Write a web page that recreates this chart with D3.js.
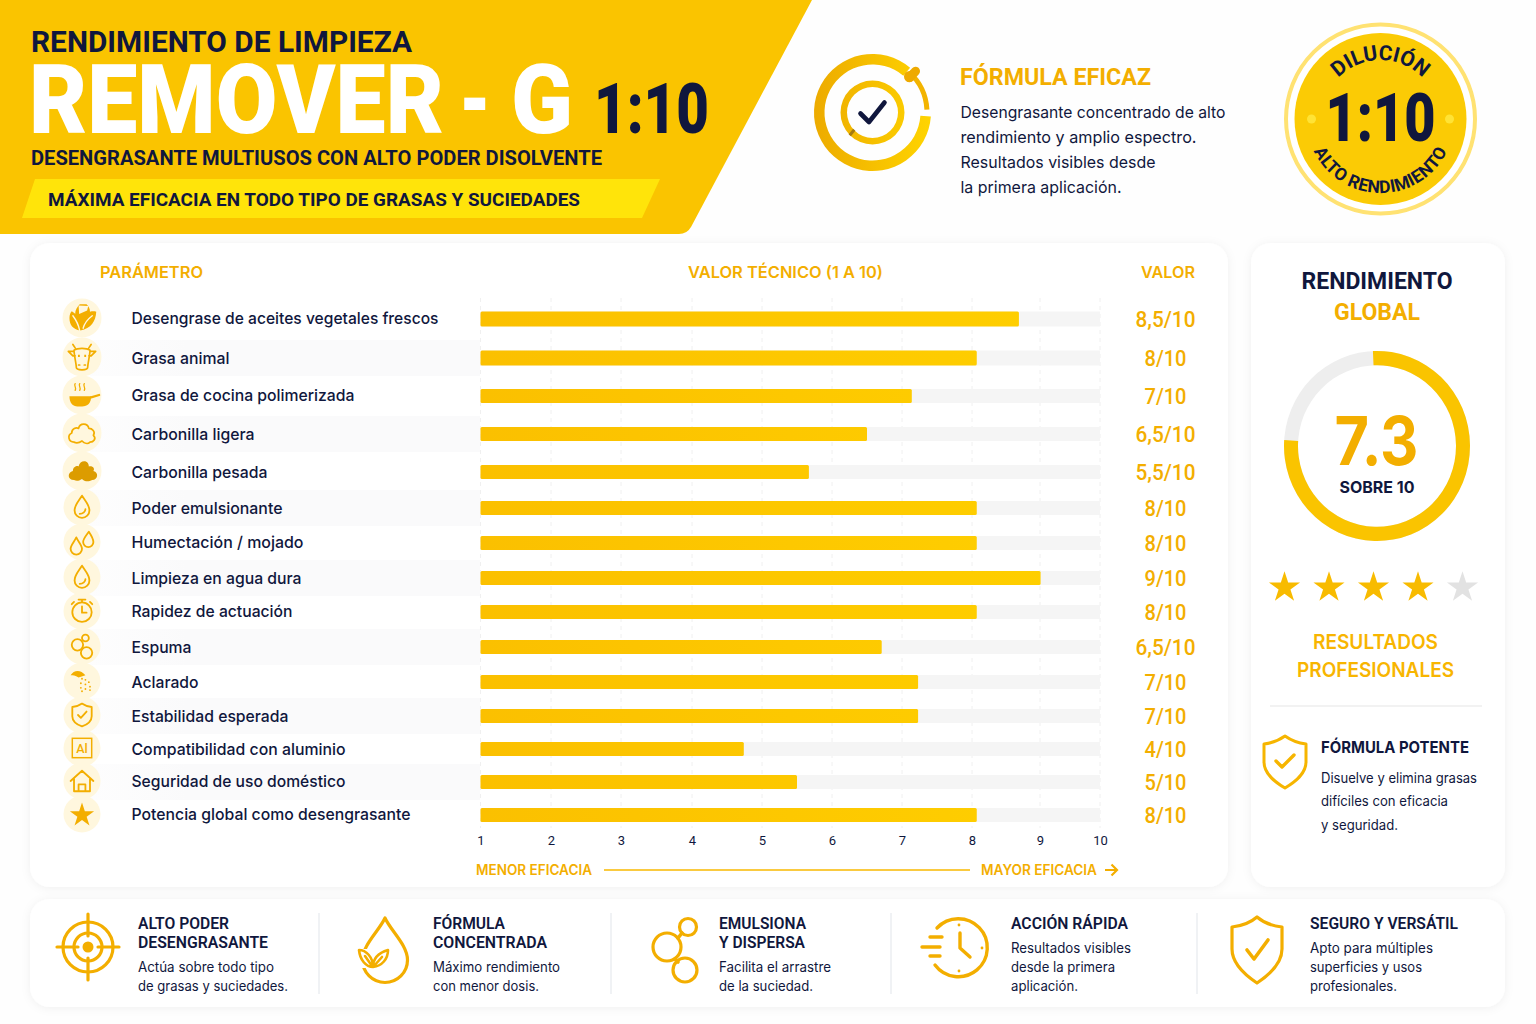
<!DOCTYPE html>
<html lang="es"><head><meta charset="utf-8">
<style>html,body{margin:0;padding:0;background:#fefefe}svg{display:block}</style>
<script src="https://cdnjs.cloudflare.com/ajax/libs/d3/7.8.5/d3.min.js"></script></head>
<body><svg id="c" width="1536" height="1024" viewBox="0 0 1536 1024"></svg>
<script>
// ---------- data ----------
const categories = ["Desengrase de aceites vegetales frescos","Grasa animal","Grasa de cocina polimerizada","Carbonilla ligera","Carbonilla pesada","Poder emulsionante","Humectación / mojado","Limpieza en agua dura","Rapidez de actuación","Espuma","Aclarado","Estabilidad esperada","Compatibilidad con aluminio","Seguridad de uso doméstico","Potencia global como desengrasante"];
const valueLabels = ["8,5/10","8/10","7/10","6,5/10","5,5/10","8/10","8/10","9/10","8/10","6,5/10","7/10","7/10","4/10","5/10","8/10"];
// bar ends as they read against the printed axis
const barValues = [8.69,8.07,7.14,6.5,5.67,8.07,8.07,9.01,8.07,6.71,7.23,7.23,4.74,5.5,8.07];
const iconKeys = ["leaf","cow","pan","cloud","cloudFill","drop","drops","drop","watch","bubbles","shower","shield","al","house","star"];
const tickValues = [1,2,3,4,5,6,7,8,9,10];
const tickPixels = [480.5,551,621,692,762,832,902,972,1040,1100];
const rowPixels = [319,358,396,434,472,508,543,578,612,647,682,716,749,782,815];
const rowHeights = [15,15,14,14,14,14,14,14,14,14,14,14,14,14,14];
const labelWidths = [307,98,223,123,136,151,172,170,161,60,67,157,214,214,279];
const labelOffsets = [5,6,5,6,6,6,5,6,5,6,6,6,6,5,5];
const globalScore = "7.3", gaugeReading = 7.6, starsOn = 4, starsAll = 5;
const ticksFont = "Roboto";

const INK="#10173d", AMB="#f3ae00", YEL="#fac400";
const svg=d3.select("#c"), defs=svg.append("defs");
const sans="Inter, Roboto, sans-serif", din="Roboto, Inter, sans-serif";

function T(p,x,y,s,o={}){const t=p.append("text").attr("x",x).attr("y",y).text(s)
  .attr("font-family",o.f||sans).attr("font-size",o.s||16).attr("font-weight",o.w||500)
  .attr("fill",o.c||INK).attr("text-anchor",o.a||"start");
  if(o.len)t.attr("textLength",o.len).attr("lengthAdjust","spacingAndGlyphs");
  return t;}
const lg=(id,a,b,x1,x2)=>{const g=defs.append("linearGradient").attr("id",id).attr("gradientUnits","userSpaceOnUse")
  .attr("x1",x1).attr("x2",x2).attr("y1",0).attr("y2",0);
  g.append("stop").attr("offset",0).attr("stop-color",a);g.append("stop").attr("offset",1).attr("stop-color",b);};
lg("barG","#fbc000","#ffd000",481,1100);
const sh=defs.append("filter").attr("id","sh").attr("x","-5%").attr("y","-10%").attr("width","110%").attr("height","120%");
sh.append("feDropShadow").attr("dx",0).attr("dy",1).attr("stdDeviation",5).attr("flood-color","#000").attr("flood-opacity",0.06);

// ---------- header ----------
const line=d3.line();
svg.append("path").attr("d","M0,0H812L691,227Q687,234 679,234H0Z").attr("fill",YEL);
svg.append("path").attr("d",line([[35,179],[660,179],[642,218],[22,218]])+"Z").attr("fill","#ffe40a");
T(svg,31,52,"RENDIMIENTO DE LIMPIEZA",{f:din,s:30,w:700,len:381});
T(svg,29,133,"REMOVER",{f:din,s:97,w:900,c:"#fff",len:415});
T(svg,459,133,"-",{f:din,s:97,w:900,c:"#fff",len:32});
T(svg,511,133,"G",{f:din,s:97,w:900,c:"#fff",len:62});
T(svg,594,133,"1:10",{f:din,s:70,w:900,len:115});
T(svg,31,165,"DESENGRASANTE MULTIUSOS CON ALTO PODER DISOLVENTE",{f:din,s:21,w:700,len:571});
T(svg,48,206,"MÁXIMA EFICACIA EN TODO TIPO DE GRASAS Y SUCIEDADES",{f:din,s:19,w:700,len:532});

// target icon
const arc=d3.arc(), rad=d=>d*Math.PI/180;
const tg=svg.append("g").attr("transform","translate(872.5,112.5)");
const ring=(a,b,r0,r1,fill)=>tg.append("path").attr("d",arc({innerRadius:r0,outerRadius:r1,startAngle:rad(a),endAngle:rad(b),cornerRadius:2})).attr("fill",fill);
const ringFill="url(#ringT)";
const rg=defs.append("linearGradient").attr("id","ringT").attr("gradientUnits","userSpaceOnUse").attr("x1",-58).attr("x2",58).attr("y1",0).attr("y2",0);
rg.append("stop").attr("offset",0).attr("stop-color","#edab00");rg.append("stop").attr("offset",1).attr("stop-color","#ffd400");
ring(94,400,48,58.5,ringFill);ring(42,87,52,57,"#f3b400");
ring(0,360,25.5,32,ringFill);
tg.append("rect").attr("x",-4.5).attr("y",-9).attr("width",9).attr("height",18).attr("rx",4.5).attr("fill","#eeaa00").attr("transform","translate(40,-38) rotate(42)");
tg.append("circle").attr("cx",37).attr("cy",-36).attr("r",5.5).attr("fill","#eeaa00");
tg.append("rect").attr("x",-1.5).attr("y",-3.5).attr("width",3).attr("height",7).attr("fill","#a47a10").attr("transform","translate(-20.5,20) rotate(40)");
tg.append("path").attr("d","M-12,1L-3.5,9.5L12,-10").attr("fill","none").attr("stroke",INK).attr("stroke-width",4.6).attr("stroke-linecap","round").attr("stroke-linejoin","round");

T(svg,960,85,"FÓRMULA EFICAZ",{f:din,s:24,w:700,c:AMB,len:191});
[["Desengrasante concentrado de alto",118,265],["rendimiento y amplio espectro.",143,236],["Resultados visibles desde",168,195],["la primera aplicación.",193,161]]
  .forEach(d=>T(svg,960.5,d[1],d[0],{s:16.5,w:400,len:d[2]}));

// dilution badge
const bd=svg.append("g").attr("transform","translate(1380.5,119)");
bd.append("circle").attr("r",94.5).attr("fill","#fff").attr("stroke","#ffe272").attr("stroke-width",4);
bd.append("circle").attr("r",86).attr("fill","#fbcb05");
[-69,69].forEach(x=>bd.append("circle").attr("cx",x).attr("cy",0).attr("r",4.5).attr("fill","#ffe335"));
T(bd,0,22,"1:10",{f:din,s:66,w:900,a:"middle",len:110});
defs.append("path").attr("id","topArc").attr("d","M-59,0A59,59 0 0 1 59,0");
defs.append("path").attr("id","botArc").attr("d","M-74,0A74,74 0 0 0 74,0");
bd.append("text").attr("font-family",din).attr("font-size",21).attr("font-weight",700).attr("fill",INK)
 .append("textPath").attr("href","#topArc").attr("startOffset","50%").attr("text-anchor","middle").text("DILUCIÓN");
bd.append("text").attr("font-family",din).attr("font-size",17.5).attr("font-weight",700).attr("fill",INK).attr("letter-spacing",0.3)
 .append("textPath").attr("href","#botArc").attr("startOffset","50%").attr("text-anchor","middle").text("ALTO RENDIMIENTO");

// ---------- cards ----------
[[30,243,1198,644],[1251,243,254,644],[30,899,1475,108]].forEach(d=>svg.append("rect").attr("x",d[0]).attr("y",d[1]).attr("width",d[2]).attr("height",d[3]).attr("rx",20).attr("fill","#fff").attr("filter","url(#sh)"));

// ---------- chart ----------
T(svg,100,278,"PARÁMETRO",{s:16,w:600,c:AMB,len:103});
T(svg,688,278,"VALOR TÉCNICO (1 A 10)",{s:16,w:600,c:AMB,len:195});
T(svg,1141,278,"VALOR",{s:16,w:600,c:AMB,len:54});

const x=d3.scaleLinear().domain(tickValues).range(tickPixels);
const y=d3.scaleOrdinal().domain(categories).range(rowPixels);
const h=d3.scaleOrdinal().domain(categories).range(rowHeights);
const zero=tickPixels[0], end=tickPixels[tickPixels.length-1];
const chart=svg.append("g");

// stripes on even rows, fading towards the left
const sg=defs.append("linearGradient").attr("id","stripeG");
sg.append("stop").attr("offset",0).attr("stop-color","#fbfbfc").attr("stop-opacity",0.5);
sg.append("stop").attr("offset",0.25).attr("stop-color","#fafafb");
sg.append("stop").attr("offset",1).attr("stop-color","#fafafb");
chart.selectAll(".st").data(categories.filter((d,i)=>i%2==1)).join("rect")
  .attr("x",90).attr("width",390).attr("y",d=>y(d)-18).attr("height",36).attr("fill","url(#stripeG)");
// grid
chart.selectAll(".gr").data(tickValues).join("line")
  .attr("x1",d=>x(d)).attr("x2",d=>x(d)).attr("y1",298).attr("y2",828)
  .attr("stroke","#f0f0f0").attr("stroke-dasharray","4 4");
// tracks + bars
chart.selectAll(".tr").data(categories).join("rect")
  .attr("x",zero).attr("width",end-zero).attr("y",d=>y(d)-h(d)/2).attr("height",h).attr("fill","#f5f5f5");
chart.selectAll(".bar").data(categories).join("rect")
  .attr("x",zero).attr("width",(d,i)=>x(barValues[i])-zero).attr("y",d=>y(d)-h(d)/2).attr("height",h).attr("rx",1.5).attr("fill","url(#barG)");
// labels
categories.forEach((c,i)=>{
  T(chart,131.5,y(c)+labelOffsets[i],c,{s:16.3,w:500,len:labelWidths[i]});
  const vw=valueLabels[i].length==6?60:42;
  T(chart,1165.5,y(c)+8,valueLabels[i],{f:din,s:22.5,w:500,c:AMB,a:"middle",len:vw});
});
// axis
const ax=svg.append("g").attr("transform","translate(0,840)")
  .call(d3.axisBottom(x).tickValues(tickValues).tickSize(0).tickPadding(0).tickFormat(d3.format("d")));
ax.select(".domain").remove();
ax.selectAll("text").attr("font-family",ticksFont).attr("font-size",13).attr("fill",INK).attr("dy","0.36em").attr("y",0);

T(svg,476,875,"MENOR EFICACIA",{s:14,w:600,c:AMB,len:116});
svg.append("line").attr("x1",604).attr("x2",970).attr("y1",870).attr("y2",870).attr("stroke","#f8b900").attr("stroke-width",1.3);
T(svg,981,875,"MAYOR EFICACIA",{s:14,w:600,c:AMB,len:116});
svg.append("path").attr("d","M1105,870H1117M1111.5,864.5L1117,870L1111.5,875.5").attr("fill","none").attr("stroke",AMB).attr("stroke-width",2.2);

// row icons
const S=(g,d,w=1.6)=>g.append("path").attr("d",d).attr("fill","none").attr("stroke",AMB).attr("stroke-width",w).attr("stroke-linecap","round").attr("stroke-linejoin","round");
const F=(g,d,c=AMB)=>g.append("path").attr("d",d).attr("fill",c);
const C=(g,cx,cy,r,w=1.6)=>g.append("circle").attr("cx",cx).attr("cy",cy).attr("r",r).attr("fill","none").attr("stroke",AMB).attr("stroke-width",w);
const drop="M0,-10C3,-5 6.5,-2 6.5,3A6.5,6.5 0 0 1 -6.5,3C-6.5,-2 -3,-5 0,-10Z";
const icons={
 leaf:g=>{F(g,"M-1.5,11C-8,10 -11,6 -11,0C-11,-3 -10,-5 -9,-6C-7.5,-5 -6.5,-4.5 -6,-3.5C-6,-7 -4,-10 -2,-12L4,-12C6,-10 7,-8 7,-5.5C9,-6 11,-6 12.5,-5.5C12,3 8,9 -1.5,11Z");
   g.append("path").attr("d","M-3,-11L-2.5,-3.5L4.5,-6.5L5.5,-10.5Z").attr("fill","#fff7de");
   S(g,"M-8,-2C-5,2 -3,6 -2,11M1,9C2,5 5,1 9,-2",1.2).attr("stroke","#fff7de");},
 cow:g=>{S(g,"M-7,-6C-7,-2 -5,6 -5,9C-5,12 5,12 5,9C5,6 7,-2 7,-6C4,-8 -4,-8 -7,-6ZM-7,-5H-12L-8,-1H-6M7,-5H12L8,-1H6M-6,-8L-8,-11M6,-8L8,-11M-3,7H-2M2,7H3",1.5);
   F(g,"M-3.5,-2h1.6v2h-1.6zM2,-2h1.6v2h-1.6z");},
 pan:g=>{F(g,"M-11,1H8C8,7 5,10 0,10H-4C-8,10 -11,7 -11,1Z");S(g,"M8,2L15,0",2);
   S(g,"M-6,-10c-1.5,2 1.5,3 0,6M-2,-10c-1.5,2 1.5,3 0,6M2,-10c-1.5,2 1.5,3 0,6",1.1);},
 cloud:g=>S(g,"M-7,8C-12,8 -13,2 -9,0C-9,-4 -5,-5 -3,-4C-2,-9 5,-9 6,-4C9,-4 12,-1 10,2C13,5 10,8 7,8C5,10 2,9 0,7C-3,9 -5,9 -7,8Z",1.5),
 cloudFill:g=>F(g,"M-7,8C-13,8 -13,1 -8,0C-8,-4 -4,-5 -3,-4C-2,-10 6,-10 6,-4C8,-5 12,-3 10,0C15,1 14,8 9,8C5,10 2,9 0,7C-3,9 -5,9 -7,8Z","#dc9c00"),
 drop:g=>{S(g,drop);S(g,"M-2,6C1,6 3,4 3,2",1.6);},
 drops:g=>{S(g,"M-5,-4C-3,0 0,3 0,6A5,5 0 0 1 -10,6C-10,3 -7,0 -5,-4Z");S(g,"M6,-9C8,-6 10,-3 10,0A4.5,4.5 0 0 1 1,0C1,-3 4,-6 6,-9Z");},
 watch:g=>{C(g,0,1,8.5);S(g,"M0,-4V1.5H4M-3,-10H3M0,-10V-8M-9,-6L-7,-8M9,-6L7,-8");},
 bubbles:g=>{C(g,-4,-1,5);C(g,4,6,5);C(g,3,-7,3);},
 shower:g=>{F(g,"M-10,-5C-7,-10 -1,-10 3,-5L-3,-3C-6,-5 -8,-5 -10,-5Z");
   g.selectAll(".p").data([[0,-2],[3,-1],[6,1],[-1,2],[3,3],[7,5],[-1,6],[3,7],[7,8],[0,9]]).join("circle").attr("cx",d=>d[0]).attr("cy",d=>d[1]).attr("r",0.8).attr("fill",AMB);},
 shield:g=>{S(g,"M0,-10C3,-8 6,-7 8.5,-7V1C8.5,6 4,8.5 0,10C-4,8.5 -8.5,6 -8.5,1V-7C-6,-7 -3,-8 0,-10Z");S(g,"M-3.5,0L-1,2.5L4,-3");},
 al:g=>{g.append("rect").attr("x",-8.5).attr("y",-8.5).attr("width",17).attr("height",17).attr("fill","none").attr("stroke",AMB).attr("stroke-width",1.3);
   T(g,0,4,"Al",{f:din,s:11,w:500,c:AMB,a:"middle"});},
 house:g=>{S(g,"M-10,0L0,-9L10,0M-7,-2V9H7V-2M-3,9V3H3V9");},
 star:g=>g.append("path").attr("d",d3.symbol(d3.symbolStar,140)()).attr("fill",AMB).attr("transform","translate(0,1)")
};
categories.forEach((c,i)=>{
  const g=chart.append("g").attr("transform",`translate(82,${y(c)-1})`);
  g.append("circle").attr("r",i<5?19.5:18.5).attr("fill","#fff7de");
  icons[iconKeys[i]](g.append("g").attr("transform","scale(1.14)"));
});

// ---------- global panel ----------
T(svg,1377,289,"RENDIMIENTO",{f:din,s:24,w:700,a:"middle",len:151});
T(svg,1377,320,"GLOBAL",{f:din,s:24,w:700,c:AMB,a:"middle",len:86});
const gauge=svg.append("g").attr("transform","translate(1377,446) scale(1,1.022)");
const ga=d3.scaleLinear().domain([0,10]).range([0,2*Math.PI]);
gauge.append("path").attr("d",arc({innerRadius:79,outerRadius:93,startAngle:0,endAngle:2*Math.PI})).attr("fill","#eeeeee");
gauge.append("path").attr("d",arc({innerRadius:79,outerRadius:93,startAngle:ga(-0.07),endAngle:ga(gaugeReading),cornerRadius:7})).attr("fill",YEL);
T(svg,1376.5,465,globalScore,{s:67,w:700,c:AMB,a:"middle",len:84});
T(svg,1377,493,"SOBRE 10",{s:16,w:700,a:"middle",len:75});
const sx=d3.scalePoint().domain(d3.range(starsAll)).range([1284.5,1462.5]);
svg.selectAll(".star").data(d3.range(starsAll)).join("path")
  .attr("d",d3.symbol(d3.symbolStar,300)()).attr("transform",d=>`translate(${sx(d)},587.5)`)
  .attr("fill",d=>d<starsOn?"#f8bb00":"#e2e2e2");
T(svg,1375.5,649,"RESULTADOS",{s:20,w:600,c:"#f8b500",a:"middle",len:125});
T(svg,1375.5,677,"PROFESIONALES",{s:20,w:600,c:"#f8b500",a:"middle",len:157});
svg.append("line").attr("x1",1270).attr("x2",1482).attr("y1",706).attr("y2",706).attr("stroke","#eeeeee").attr("stroke-width",1.5);
const shieldBig="M0,-26C7,-21 13,-19 21,-18V0C21,12 10,20 0,26C-10,20 -21,12 -21,0V-18C-13,-19 -7,-21 0,-26Z";
const si=svg.append("g").attr("transform","translate(1285,762)");
S(si,shieldBig,3).attr("stroke","#f6b500");S(si,"M-9,-1L-3,5L9,-7",3.4).attr("stroke","#f6b500");
T(svg,1321,753,"FÓRMULA POTENTE",{s:16,w:700,len:148});
[["Disuelve y elimina grasas",783,156],["difíciles con eficacia",806,127],["y seguridad.",830,77]].forEach(d=>T(svg,1321,d[1],d[0],{s:14,w:400,len:d[2]}));

// ---------- bottom strip ----------
[319,611,891,1197].forEach(v=>svg.append("line").attr("x1",v).attr("x2",v).attr("y1",913).attr("y2",994).attr("stroke","#e1e5ea"));
const foot=[
 {x:138,h:["ALTO PODER","DESENGRASANTE"],hw:[91,130],b:["Actúa sobre todo tipo","de grasas y suciedades."],bw:[136,150]},
 {x:433,h:["FÓRMULA","CONCENTRADA"],hw:[72,114],b:["Máximo rendimiento","con menor dosis."],bw:[127,106]},
 {x:719,h:["EMULSIONA","Y DISPERSA"],hw:[87,86],b:["Facilita el arrastre","de la suciedad."],bw:[112,94]},
 {x:1011,h:["ACCIÓN RÁPIDA"],hw:[117],b:["Resultados visibles","desde la primera","aplicación."],bw:[120,104,67]},
 {x:1310,h:["SEGURO Y VERSÁTIL"],hw:[148],b:["Apto para múltiples","superficies y usos","profesionales."],bw:[123,112,87]}];
foot.forEach(d=>{let yy=929;
  d.h.forEach((t,i)=>{T(svg,d.x,yy,t,{f:din,s:16,w:600,len:d.hw[i]});yy+=18.5;});
  let by=d.h.length==2?972:953;
  d.b.forEach((t,i)=>{T(svg,d.x,by,t,{s:14,w:400,len:d.bw[i]});by+=19.2;});
});
const I=(px,py)=>svg.append("g").attr("transform",`translate(${px},${py})`);
const c1=I(88,947);
C(c1,0,0,25,3.2);C(c1,0,0,14,3.2);c1.append("circle").attr("r",5.5).attr("fill",AMB);
S(c1,"M0,-33V-11M0,11V33M-31,0H-10M10,0H31",3.2);
const c2=I(385,951);
S(c2,"M0,-33C6,-20 22.5,-6 22.5,9A22.5,22.5 0 0 1 -22.5,9C-22.5,-6 -6,-20 0,-33Z",3.2);
c2.append("path").attr("d","M-27,-2L3,-2L3,17L-27,17Z").attr("fill","#fff");
S(c2,"M-26,-1C-19,-1 -12,6 -12,16C-19,16 -25,9 -26,-1ZM-12,16C-12,8 -7,2 3,-1C3,8 -3,15 -12,16ZM-20,5L-13,15M-3,6L-11,15",2.6);
const c3=I(673,947);
C(c3,-6,0,14,3.2);C(c3,15,-20,8.5,3.2);C(c3,12,23,12,3.2);S(c3,"M5,-9L9,-14M2,12L5,15",3.6);
const c4=I(959,948);
S(c4,"M-22,-20A29,29 0 1 1 -24,17",3.4);
S(c4,"M1,-15V0L11,9M-29,-11H-17M-37,-1H-19M-29,8H-19",3.4);
[[0,-23],[23,0],[0,23]].forEach(p=>c4.append("circle").attr("cx",p[0]).attr("cy",p[1]).attr("r",1.4).attr("fill",AMB));
const c5=I(1257,950);
S(c5,"M0,-33C8,-26 16,-24 25,-23V-1C25,14 12,25 0,33C-12,25 -25,14 -25,-1V-23C-16,-24 -8,-26 0,-33Z",3.2);S(c5,"M-10,0L-3,9L11,-10",3.6);
</script></body></html>
